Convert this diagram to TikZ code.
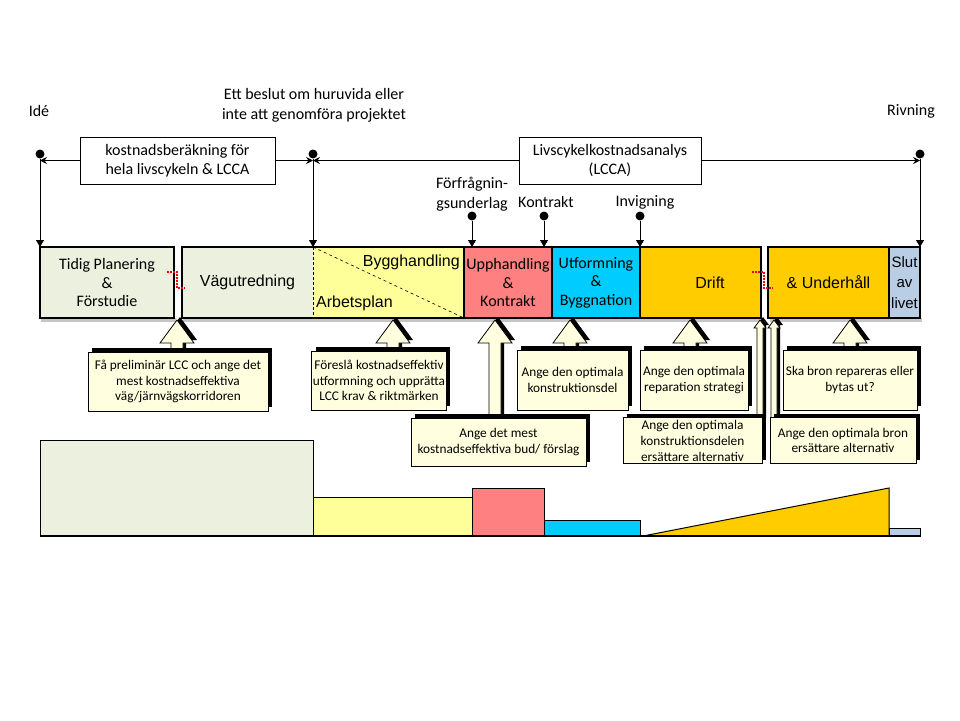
\documentclass[tikz,border=0pt]{standalone}
\usepackage{fontspec}
\setmainfont{Carlito}
\newfontfamily\arialf{Liberation Sans}
\usetikzlibrary{arrows.meta,shadows}
\definecolor{cgreen}{HTML}{EBF1DE}
\definecolor{cyellow}{HTML}{FFFF99}
\definecolor{cred}{HTML}{FF8080}
\definecolor{ccyan}{HTML}{00CCFF}
\definecolor{cgold}{HTML}{FFCC00}
\definecolor{cblue}{HTML}{B9CDE5}
\definecolor{ccall}{HTML}{FFFFE0}
% tip x, tip y, head base y, bottom y, head half width, shaft half width
\newcommand\callarrow[6]{%
  \path[arrowshape] (#1,#2) -- (#1+#5,#3) -- (#1+#6,#3) -- (#1+#6,#4) -- (#1-#6,#4) -- (#1-#6,#3) -- (#1-#5,#3) -- cycle;}
\begin{document}
\begin{tikzpicture}[x=1pt,y=-1pt,
  lbl/.style={font=\fontsize{16}{20}\selectfont, align=center, inner sep=0pt},
  dot/.style={circle, fill=black, inner sep=0pt, minimum size=9pt},
  vline/.style={line width=0.9pt, -{Triangle[length=7pt,width=8pt]}},
  hline/.style={line width=0.9pt, -{Stealth[length=7pt,width=7pt,inset=2.5pt]}},
  topbox/.style={draw, line width=0.9pt, fill=white, align=center, font=\fontsize{16}{19}\selectfont, inner sep=0pt},
  phasefill/.style={anchor=north west, minimum height=71pt, inner sep=0pt, outer sep=0pt, align=center, font=\fontsize{16}{18.5}\selectfont},
  phase/.style={phasefill, draw=black, line width=2.5pt},
  arialtxt/.style={font=\arialf\fontsize{16}{20}\selectfont, inner sep=0pt, align=center},
  reddot/.style={red, line width=1.5pt, dash pattern=on 1.5pt off 1.5pt},
  callout/.style={draw=black, line width=0.8pt, fill=ccall, align=center, inner sep=1pt,
    font=\fontsize{13.3}{15.5}\selectfont,
    drop shadow={shadow xshift=4pt, shadow yshift=4pt, fill=black, opacity=1}},
  arrowshape/.style={draw=black, line width=0.8pt, fill=ccall,
    drop shadow={shadow xshift=3pt, shadow yshift=3pt, fill=black, opacity=1}},
  chartbox/.style={draw=black, line width=1pt}
]
\useasboundingbox (0,0) rectangle (960,720);

% ---------- top labels and dots ----------
\node[lbl] (tide) at (39,111) {Idé};
\node[lbl] (tbeslut) at (314,105) {Ett beslut om huruvida eller\\inte att genomföra projektet};
\node[lbl] (triv) at (911,111) {Rivning};
\node[lbl] (tff) at (472,194) {Förfrågnin-\\gsunderlag};
\node[lbl] (tkon) at (546,202) {Kontrakt};
\node[lbl] (tinv) at (645,202) {Invigning};

\node[dot] (d1) at (40,154) {};
\node[dot] (d2) at (313,154) {};
\node[dot] (d3) at (920,154) {};
\node[dot] (d4) at (472,216) {};
\node[dot] (d5) at (544,216) {};
\node[dot] (d6) at (640,216) {};

% ---------- phase bar ----------
\fill[gray!45] (41,318) rectangle (176,321.5);
\fill[gray!45] (183,318) rectangle (763,321.5);
\fill[gray!45] (770,318) rectangle (922,321.5);

\node[phase, fill=cgreen, minimum width=134pt] (p1) at (40,247) {Tidig Planering\\\&\\Förstudie};
\node[phasefill, fill=cgreen, minimum width=131pt, font=\arialf\fontsize{16}{20}\selectfont] (p2) at (182,247) {Vägutredning};
\node[phasefill, fill=cyellow, minimum width=151pt] (p3) at (313,247) {};
\draw[line width=0.6pt, densely dashed] (p3.north west) -- (p3.south west);
\draw[line width=0.6pt, dashed] (p3.north west) -- (p3.south east);
\draw[line width=2.5pt] (p2.north west) rectangle (p3.south east);
\node[arialtxt, anchor=east] (tbyg) at (460,262) {Bygghandling};
\node[arialtxt, anchor=west] (tarb) at (316,303) {Arbetsplan};
\node[phase, fill=cred, minimum width=88pt] (p4) at (464,247) {Upphandling\\\&\\Kontrakt};
\node[phase, fill=ccyan, minimum width=88pt] (p5) at (552,247) {Utformning\\\&\\Byggnation};
\node[phase, fill=cgold, minimum width=121pt] (p6) at (640,247) {};
\node[arialtxt] (tdrift) at (710,283) {Drift};
\node[phase, fill=cgold, minimum width=121pt, font=\arialf\fontsize{16}{20}\selectfont] (p7) at (768,247) {\& Underhåll};
\node[phase, fill=cblue, minimum width=31pt, font=\arialf\fontsize{15}{20.5}\selectfont] (p8) at (889,247) {Slut\\av\\livet};

\draw[reddot] (167,272) -- (177,272) -- (177,288) -- (185,288);
\draw[reddot] (752,272) -- (764,272) -- (764,288) -- (773,288);

% ---------- top boxes and connectors ----------
\node[topbox, minimum width=195pt, minimum height=47pt] (k1) at (177.5,160.5) {kostnadsberäkning för\\hela livscykeln \& LCCA};
\node[topbox, minimum width=182pt, minimum height=47pt] (lcca) at (610,160.5) {Livscykelkostnadsanalys\\(LCCA)};

\draw[vline] (d1) -- (p1.north west);
\draw[vline] (d2) -- (p3.north west);
\draw[vline] (d3) -- (p8.north east);
\draw[vline] (d4) -- (d4 |- p4.north);
\draw[vline] (d5) -- (d5 |- p4.north);
\draw[vline] (d6) -- (p6.north west);

\draw[hline] (k1.west) -- (k1.west -| d1);
\draw[hline] (k1.east) -- (k1.east -| d2);
\draw[hline] (lcca.west) -- (lcca.west -| d2);
\draw[hline] (lcca.east) -- (lcca.east -| d3);

% ---------- callout arrows ----------
\callarrow{177}{320}{343}{355}{17}{6}
\callarrow{393}{320}{343}{355}{17}{6}
\callarrow{495}{320}{343}{421}{17}{6}
\callarrow{570}{320}{343}{353}{17}{6}
\callarrow{690}{320}{343}{353}{17}{6}
\callarrow{850}{320}{343}{353}{17}{6}
\callarrow{760}{320}{328}{421}{6}{3}
\callarrow{774}{320}{328}{421}{6}{3}

% ---------- callouts ----------
\node[callout, minimum width=180pt, minimum height=59pt] (c1) at (178,381.5) {Få preliminär LCC och ange det\\mest kostnadseffektiva\\väg/järnvägskorridoren};
\node[callout, minimum width=130pt, minimum height=59pt] (c2) at (379,380.5) {Föreslå kostnadseffektiv\\utformning och upprätta\\LCC krav \& riktmärken};
\node[callout, minimum width=175pt, minimum height=48pt] (c3) at (498.5,442) {Ange det mest\\kostnadseffektiva bud/ förslag};
\node[callout, minimum width=111pt, minimum height=60pt] (c4) at (572.5,380) {Ange den optimala\\konstruktionsdel};
\node[callout, minimum width=108pt, minimum height=60pt] (c5) at (694,380) {Ange den optimala\\reparation strategi};
\node[callout, minimum width=134pt, minimum height=60pt] (c6) at (850,380) {Ska bron repareras eller\\bytas ut?};
\node[callout, minimum width=139pt, minimum height=46pt, font=\fontsize{13.3}{16}\selectfont] (c7) at (692.5,440.5) {Ange den optimala\\konstruktionsdelen\\ersättare alternativ};
\node[callout, minimum width=146pt, minimum height=46pt] (c8) at (843,440.5) {Ange den optimala bron\\ersättare alternativ};

% ---------- bottom chart ----------
\draw[chartbox, fill=cgreen] (40,440) rectangle (313,536);
\draw[chartbox, fill=cyellow] (313,497) rectangle (472,536);
\draw[chartbox, fill=cred] (472,488) rectangle (544,536);
\draw[chartbox, fill=ccyan] (544,520) rectangle (640,536);
\draw[chartbox, fill=cgold] (643,536) -- (889,488) -- (889,536) -- cycle;
\draw[chartbox, fill=cblue] (889,528) rectangle (920,536);
\draw[line width=1.2pt] (40,536) -- (920,536);
\end{tikzpicture}
\end{document}
